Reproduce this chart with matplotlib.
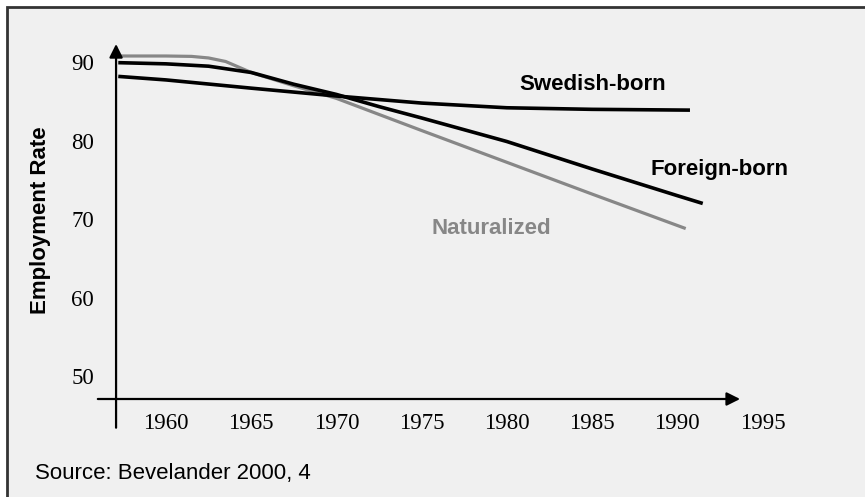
import matplotlib
matplotlib.use("Agg")
import matplotlib.pyplot as plt
from matplotlib.patches import Rectangle

# values
swedish_years = [1957.2, 1960, 1965, 1970, 1975, 1980, 1985, 1990.75]
swedish_rate = [88.2, 87.75, 86.7, 85.7, 84.8, 84.2, 84.0, 83.9]

foreign_years = [1957.2, 1960, 1962.5, 1965, 1967.5, 1970, 1972.5, 1975, 1977.5, 1980, 1985, 1990, 1991.5]
foreign_rate = [89.95, 89.8, 89.5, 88.7, 87.2, 85.9, 84.35, 82.9, 81.4, 79.9, 76.4, 73.0, 72.0]

natural_years = [1957.2, 1960, 1961.5, 1962.5, 1963.5, 1964.25, 1965, 1967.5, 1970, 1975, 1980, 1985, 1990.5]
natural_rate = [90.8, 90.8, 90.75, 90.55, 90.1, 89.4, 88.7, 87.0, 85.4, 81.3, 77.25, 73.2, 68.8]

x_ticks = [1960, 1965, 1970, 1975, 1980, 1985, 1990, 1995]
y_ticks = [50, 60, 70, 80, 90]

GRAY = "#878787"
SERIF = "Liberation Serif"
SANS = "Liberation Sans"

fig = plt.figure(figsize=(8.65, 4.97), dpi=100)
fig.patch.set_facecolor("white")
fig.patches.append(Rectangle((6.5 / 865, -0.05), 1.1, 1.05 - 6.5 / 497,
                             transform=fig.transFigure, facecolor="#f0f0f0",
                             edgecolor="#333333", linewidth=2, zorder=-5))

ax = fig.add_axes([98 / 865, 1 - 399 / 497, 692 / 865, 359 / 497])
ax.set_zorder(2)
ax.set_facecolor("none")
ax.set_xlim(1956.01, 1996.62)
ax.set_ylim(47.07, 92.84)
for s in ax.spines.values():
    s.set_visible(False)

ax.plot(natural_years, natural_rate, color=GRAY, lw=2.3, solid_capstyle="butt")
ax.plot(foreign_years, foreign_rate, color="black", lw=2.6, solid_capstyle="butt")
ax.plot(swedish_years, swedish_rate, color="black", lw=2.6, solid_capstyle="butt")

# axes drawn as arrows
arrow = dict(arrowstyle="-|>", mutation_scale=20, lw=1.6, color="black",
             shrinkA=0, shrinkB=0)
ax.annotate("", xy=(1957.07, 92.33), xytext=(1957.07, 43.41), arrowprops=arrow,
            annotation_clip=False)
ax.annotate("", xy=(1993.69, 47.07), xytext=(1956.0, 47.07), arrowprops=arrow,
            annotation_clip=False)

ax.set_xticks(x_ticks)
ax.set_xticklabels([str(x) for x in x_ticks], family=SERIF, fontsize=16.5)
ax.set_yticks(y_ticks)
ax.set_yticklabels([str(y) for y in y_ticks], family=SERIF, fontsize=16.5)
ax.tick_params(axis="x", length=0, pad=10)
ax.tick_params(axis="y", length=0, pad=3)

ax.text(1985.05, 86.47, "Swedish-born", ha="center", va="baseline",
        family=SANS, weight="bold", fontsize=16)
ax.text(1992.46, 75.64, "Foreign-born", ha="center", va="baseline",
        family=SANS, weight="bold", fontsize=16)
ax.text(1979.08, 68.13, "Naturalized", ha="center", va="baseline",
        family=SANS, weight="bold", fontsize=16, color=GRAY)

fig.text(40.8 / 865, 1 - 220 / 497, "Employment Rate", rotation=90,
         ha="center", va="center", family=SANS, weight="bold", fontsize=16)
fig.text(35 / 865, 1 - 479.3 / 497, "Source: Bevelander 2000, 4", ha="left",
         va="baseline", family=SANS, fontsize=16)

fig.savefig("out.png", dpi=100)
